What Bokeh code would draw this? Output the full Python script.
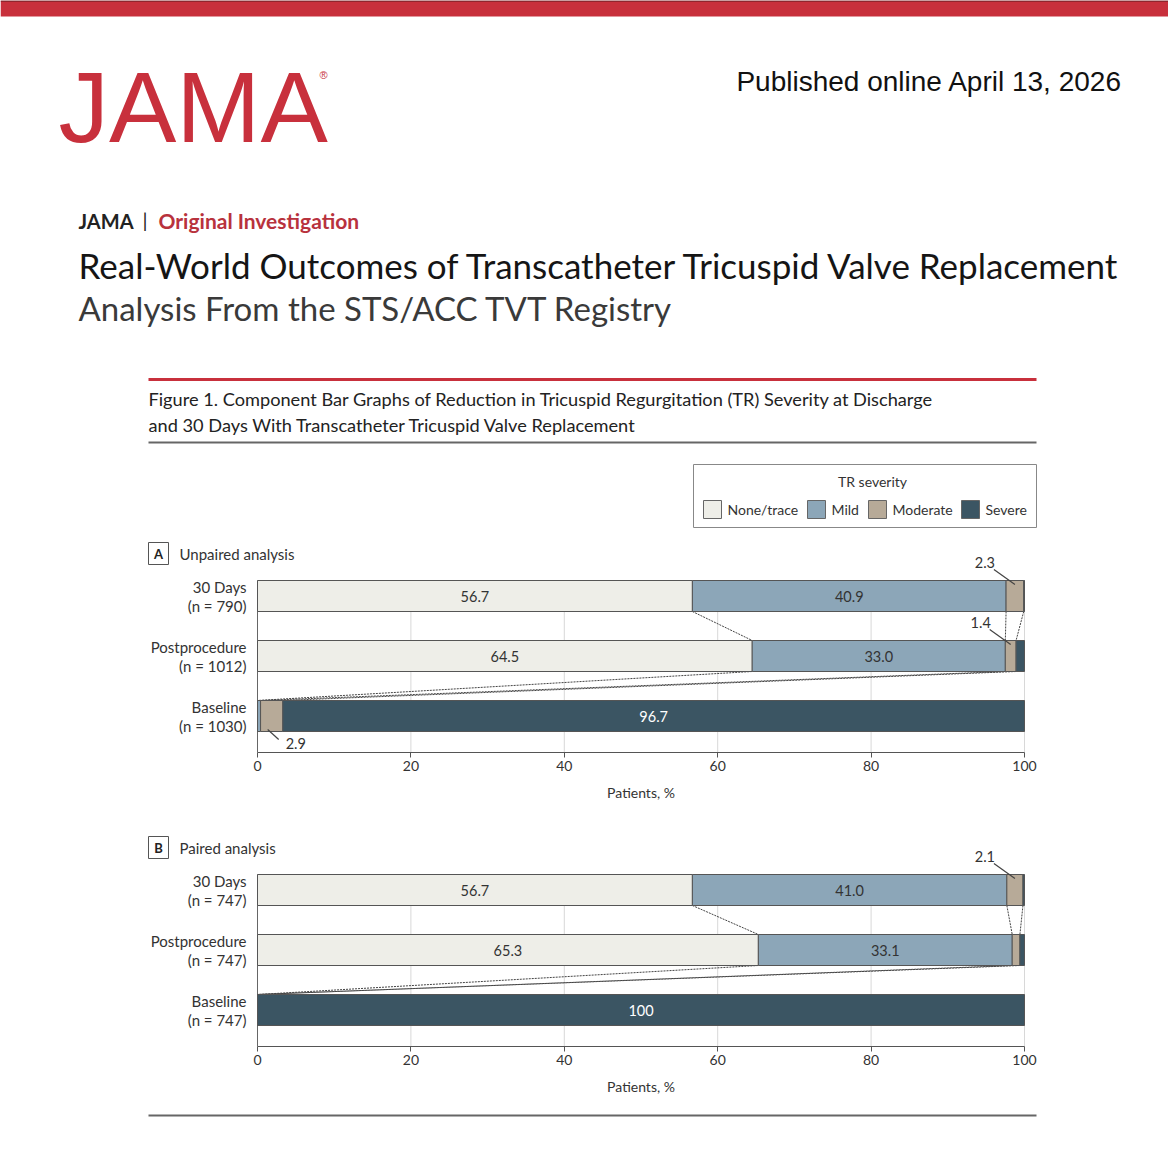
import numpy as np
from bokeh.plotting import figure
from bokeh.layouts import column
from bokeh.models import Range1d, LinearAxis, FixedTicker
from bokeh.core.properties import value
from bokeh.embed import file_html
from bokeh.resources import INLINE

# ---------------- data ----------------
series = ["None/trace", "Mild", "Moderate", "Severe"]
series_colors = ["#EEEEE8", "#8CA6B8", "#B7AA98", "#3B5563"]
timepoints = ["30 Days", "Postprocedure", "Baseline"]
x_ticks = [0, 20, 40, 60, 80, 100]
x_title = "Patients, %"

a_n = [790, 1012, 1030]
a_none = [56.7, 64.5, 0.0]
a_mild = [40.9, 33.0, 0.4]
a_moderate = [2.3, 1.4, 2.9]
a_severe = [0.1, 1.1, 96.7]

b_n = [747, 747, 747]
b_none = [56.7, 65.3, 0.0]
b_mild = [41.0, 33.1, 0.0]
b_moderate = [2.1, 1.0, 0.0]
b_severe = [0.2, 0.6, 100.0]

a_callouts = [("30 Days", "Moderate", "above"),
              ("Postprocedure", "Moderate", "above"),
              ("Baseline", "Moderate", "below")]
b_callouts = [("30 Days", "Moderate", "above")]

# ---------------- layout constants ----------------
W = 1168
PX0, PX1 = 0, 1168
ZERO_PX = 257.0
UNIT_PX = 7.67
ROW_PX = 60.0
BAR_PX = 31.0
BORDER = 28
FONT = "Lato"
INK = "#333333"
RED = "#C8303C"
OUTLINE = "#555555"


def txt(p, x, y, s, size, color=INK, align="left", baseline="middle",
        font=FONT, style="normal"):
    p.text(x=[x], y=[y], text=[s], text_font=value(font),
           text_font_size=f"{size}px", text_color=color, text_align=align,
           text_baseline=baseline, text_font_style=style)


def base_fig(height, xr, yr, bottom=0):
    return figure(width=W, height=height, x_range=xr, y_range=yr,
                  x_axis_type=None, y_axis_type=None, toolbar_location=None,
                  output_backend="svg", min_border_left=0, min_border_right=0,
                  min_border_top=0, min_border_bottom=bottom,
                  outline_line_color=None, background_fill_color="white",
                  border_fill_color="white")


def fmt(v):
    return "100" if v >= 100 else f"{v:.1f}"


# ---------------- header (page pixel coordinates) ----------------
H_TOP, H_BOT = 0, 530
hdr = base_fig(H_BOT - H_TOP, Range1d(PX0, PX1), Range1d(H_BOT, H_TOP))
hdr.quad(left=[PX0], right=[PX1], top=[H_TOP], bottom=[16], fill_color=RED,
         line_color=None)
hdr.segment(x0=[PX0], x1=[PX1], y0=[0.5], y1=[0.5], line_color="#5a1a1e",
            line_width=1)
txt(hdr, 58, 106, "JAMA", 101, color=RED, font="Liberation Sans")
txt(hdr, 319, 74, "®", 11, color=RED, font="Liberation Sans")
txt(hdr, 1122, 81, "Published online April 13, 2026", 28, color="#111111",
    align="right", font="Liberation Sans")

txt(hdr, 78, 220, "JAMA", 20, color="#222222", style="bold")
txt(hdr, 142, 219, "|", 20, color="#222222")
txt(hdr, 158, 220, "Original Investigation", 21, color="#B8323D", style="bold")
txt(hdr, 78, 264, "Real-World Outcomes of Transcatheter Tricuspid Valve Replacement",
    35, color="#151515")
txt(hdr, 78, 307, "Analysis From the STS/ACC TVT Registry", 33, color="#3a3a3a")

hdr.segment(x0=[148], x1=[1036], y0=[379], y1=[379], line_color=RED, line_width=3)
txt(hdr, 148, 398, "Figure 1. Component Bar Graphs of Reduction in Tricuspid "
    "Regurgitation (TR) Severity at Discharge", 18.2, color="#222222")
txt(hdr, 148, 424, "and 30 Days With Transcatheter Tricuspid Valve Replacement",
    18.2, color="#222222")
hdr.segment(x0=[148], x1=[1036], y0=[442], y1=[442], line_color="#666666",
            line_width=2)

# legend box
hdr.quad(left=[693], right=[1036], top=[464], bottom=[527], fill_color="white",
         line_color="#888888", line_width=1)
txt(hdr, 872, 481, "TR severity", 14, color=INK, align="center")
sw_left = [703, 807, 868, 961]
hdr.quad(left=sw_left, right=[v + 18 for v in sw_left], top=[500] * 4,
         bottom=[518] * 4, fill_color=series_colors, line_color="#666666")
for lx, name in zip(sw_left, series):
    txt(hdr, lx + 24, 509, name, 14, color=INK)


# ---------------- panels ----------------
def panel(letter, title, n, vals, callouts, top_py, axis_py, base_py,
          prev_title_py=None):
    X = lambda px: (px - ZERO_PX) / UNIT_PX
    Y = lambda py: (base_py - py) / ROW_PX
    p = base_fig(int(axis_py - top_py + BORDER), Range1d(X(PX0), X(PX1)),
                 Range1d(Y(axis_py), Y(top_py)), bottom=BORDER)
    nrow = len(timepoints)
    ys = [nrow - 1 - i for i in range(nrow)]
    h = BAR_PX / ROW_PX
    arr = np.array(vals, dtype=float)            # (series, rows)
    cum = np.column_stack([np.zeros(nrow), np.cumsum(arr.T, axis=1)])
    ymin = Y(axis_py)
    ytop = ys[0] + h / 2

    # gridlines and zero line
    gx = x_ticks[1:]
    p.segment(x0=gx, x1=gx, y0=[ymin] * len(gx), y1=[ytop] * len(gx),
              line_color="#D8D8D8", line_width=1)
    p.segment(x0=[x_ticks[0]], x1=[x_ticks[0]], y0=[ymin], y1=[ytop],
              line_color="#666666", line_width=1)

    # dotted connectors between cumulative boundaries
    cx0, cx1, cy0, cy1 = [], [], [], []
    for i in range(nrow - 1):
        for k in range(1, len(series)):
            cx0.append(cum[i, k]); cy0.append(ys[i] - h / 2)
            cx1.append(cum[i + 1, k]); cy1.append(ys[i + 1] + h / 2)
    p.segment(x0=cx0, x1=cx1, y0=cy0, y1=cy1, line_color="#444444",
              line_width=1, line_dash="2 1")

    # stacked bars
    for s in range(len(series)):
        p.hbar(y=ys, left=cum[:, s], right=cum[:, s + 1], height=h,
               fill_color=series_colors[s], line_color=OUTLINE, line_width=1)

    # in-bar values
    for i in range(nrow):
        for s in range(len(series)):
            v = arr[s, i]
            if v >= 10:
                txt(p, (cum[i, s] + cum[i, s + 1]) / 2, ys[i], fmt(v), 14.5,
                    color="white" if s == len(series) - 1 else INK,
                    align="center")

    # callouts
    for tp, sname, side in callouts:
        i = timepoints.index(tp); s = series.index(sname)
        v = arr[s, i]
        cxp = ZERO_PX + (cum[i, s] + cum[i, s + 1]) / 2 * UNIT_PX
        cpy = base_py - ys[i] * ROW_PX
        if side == "above":
            tpy = cpy - BAR_PX / 2
            p.segment(x0=[X(cxp)], y0=[Y(tpy + 4)], x1=[X(cxp - 21)],
                      y1=[Y(tpy - 11)], line_color="#444444", line_width=1.2)
            txt(p, X(cxp - 30), Y(tpy - 18), fmt(v), 14.5, align="center")
        else:
            bpy = cpy + BAR_PX / 2
            p.segment(x0=[X(cxp - 4)], y0=[Y(bpy - 2)], x1=[X(cxp + 7)],
                      y1=[Y(bpy + 8)], line_color="#444444", line_width=1.2)
            txt(p, X(cxp + 14), Y(bpy + 12), fmt(v), 14.5, align="left")

    # category labels
    for i, tp in enumerate(timepoints):
        cpy = base_py - ys[i] * ROW_PX
        txt(p, X(246), Y(cpy - 9.5), tp, 15, align="right")
        txt(p, X(246), Y(cpy + 9.5), f"(n = {n[i]})", 15, align="right")

    # panel letter + title
    bt = top_py + 12 if prev_title_py is None else top_py + 56
    p.quad(left=[X(148)], right=[X(168)], top=[Y(bt)], bottom=[Y(bt + 22)],
           fill_color="white", line_color="#555555", line_width=1)
    txt(p, X(158), Y(bt + 11), letter, 13, color="#222222", align="center",
        style="bold")
    txt(p, X(179), Y(bt + 11), title, 15, color=INK)

    if prev_title_py is not None:
        txt(p, (x_ticks[0] + x_ticks[-1]) / 2, Y(prev_title_py), x_title, 14,
            align="center")

    ax = LinearAxis(ticker=FixedTicker(ticks=x_ticks), bounds=(x_ticks[0], x_ticks[-1]),
                    major_tick_in=0, major_tick_out=5, minor_tick_line_color=None,
                    axis_line_color="#555555", major_tick_line_color="#555555",
                    major_label_text_font=FONT, major_label_text_font_size="14px",
                    major_label_text_color=INK, major_label_standoff=3)
    p.add_layout(ax, "below")
    return p


pa = panel("A", "Unpaired analysis", a_n,
           [a_none, a_mild, a_moderate, a_severe], a_callouts,
           top_py=530, axis_py=752, base_py=715.5)
pb = panel("B", "Paired analysis", b_n,
           [b_none, b_mild, b_moderate, b_severe], b_callouts,
           top_py=780, axis_py=1046, base_py=1009.5, prev_title_py=792)

# ---------------- footer ----------------
F_TOP, F_BOT = 1074, 1152
ftr = base_fig(F_BOT - F_TOP, Range1d(PX0, PX1), Range1d(F_BOT, F_TOP))
txt(ftr, ZERO_PX + (x_ticks[0] + x_ticks[-1]) / 2 * UNIT_PX, 1086, x_title, 14,
    align="center")
ftr.segment(x0=[148], x1=[1036], y0=[1115], y1=[1115], line_color="#666666",
            line_width=2)

layout = column(hdr, pa, pb, ftr, spacing=0)
open("out.html", "w").write(file_html(layout, INLINE))
